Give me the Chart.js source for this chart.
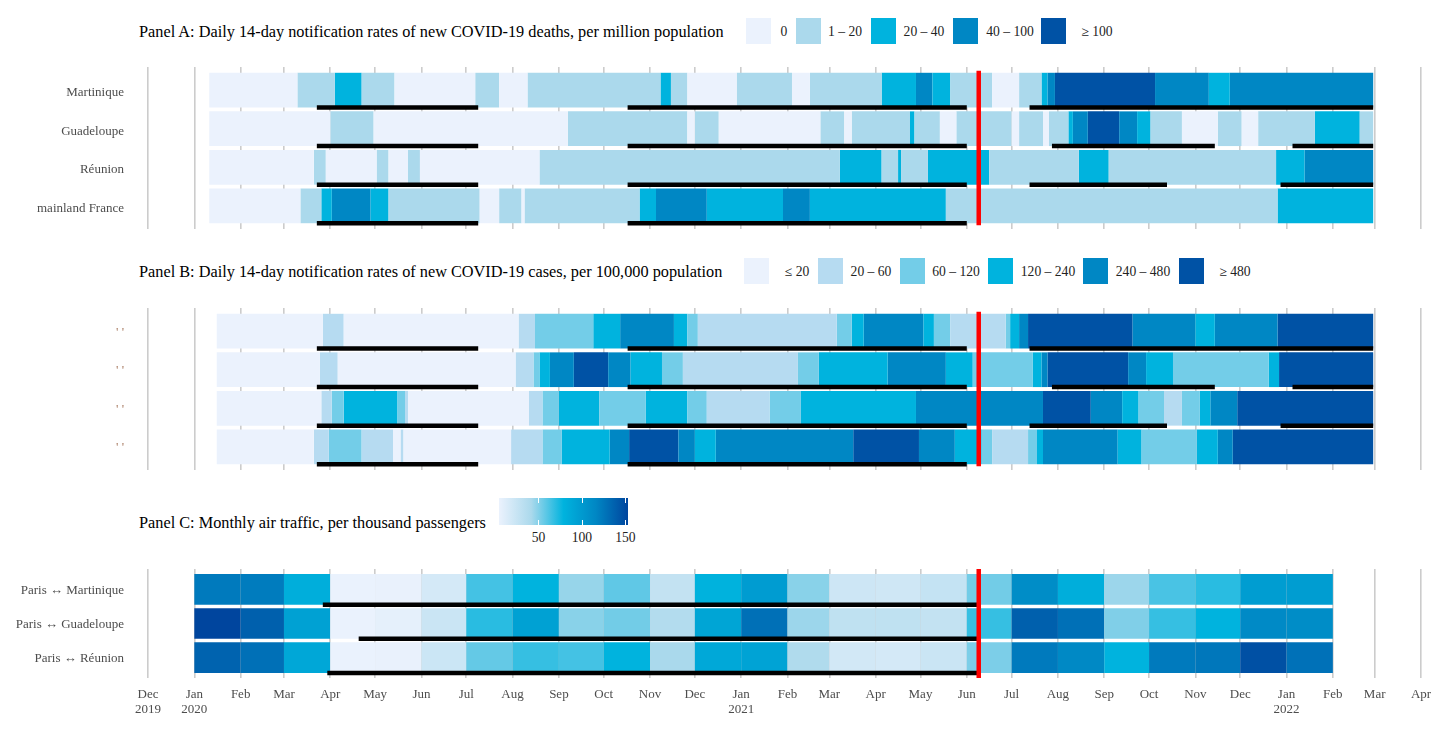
<!DOCTYPE html>
<html>
<head>
<meta charset="utf-8">
<title>COVID-19 notification rates and air traffic</title>
<script src="https://cdn.jsdelivr.net/npm/chart.js@4"></script>
<style>
  html, body { margin: 0; background: #fff; overflow: hidden; }
  body { position: relative; width: 1456px; height: 734px; font-family: 'Liberation Serif', serif; }
  canvas { position: absolute; left: 0; }
  .title { position: absolute; left: 139px; font-size: 16.3px; color: #000; white-space: nowrap; line-height: 18px; }
  .swatch { position: absolute; width: 25px; height: 26px; }
  .key { position: absolute; font-size: 13.6px; color: #222; white-space: nowrap; line-height: 16px; transform: translateX(-50%); }
  #colorbar { position: absolute; left: 499px; top: 498px; width: 129px; height: 27px;
    background: linear-gradient(to right, #EBF2FD, #ABD9EC 25%, #00B3DE 50%, #0087C4 75%, #00459E); }
  .cbtick { position: absolute; width: 1px; height: 5px; background: #fff; }
</style>
</head>
<body>
<div class="title" style="top:23px">Panel A: Daily 14-day notification rates of new COVID-19 deaths, per million population</div>
<div class="title" style="top:263px">Panel B: Daily 14-day notification rates of new COVID-19 cases, per 100,000 population</div>
<div class="title" style="top:514px">Panel C: Monthly air traffic, per thousand passengers</div>
<div id="legends"></div>
<div id="colorbar"></div>
<canvas id="panelA" width="1456" height="162" style="top:67px"></canvas>
<canvas id="panelB" width="1456" height="162" style="top:307.5px"></canvas>
<canvas id="panelC" width="1456" height="165" style="top:569px"></canvas>

<script>
/* ─── Time axis: days since 1 Dec 2019 ──────────── */
const monthStarts = [0, 31, 62, 91, 122, 152, 183, 213, 244, 275, 305, 336, 366, 397, 428, 456, 487, 517, 548, 578, 609, 640, 670, 701, 731, 762, 793, 821, 852];
const monthLabels = [['Dec', '2019'], ['Jan', '2020'], 'Feb', 'Mar', 'Apr', 'May', 'Jun', 'Jul', 'Aug', 'Sep', 'Oct', 'Nov', 'Dec', ['Jan', '2021'], 'Feb', 'Mar', 'Apr', 'May', 'Jun', 'Jul', 'Aug', 'Sep', 'Oct', 'Nov', 'Dec', ['Jan', '2022'], 'Feb', 'Mar', 'Apr'];
const reopeningDay = 556;

/* ─── Panel A: deaths ───────────────────────────── */
const territories = ['Martinique', 'Guadeloupe', 'Réunion', 'mainland France'];
const deathLevelLabels = ['0', '1 – 20', '20 – 40', '40 – 100', '≥ 100'];

const deathEdgesMartinique = [41, 100, 125, 143, 165, 219, 235, 254, 343, 350, 361, 394, 431, 443, 491, 514, 525, 537, 565, 583, 598, 602, 607, 674, 710, 724, 820];
const deathLevelsMartinique = [0, 1, 2, 1, 0, 1, 0, 1, 2, 1, 0, 1, 0, 1, 2, 3, 2, 1, 0, 1, 2, 3, 4, 3, 2, 3];
const deathEdgesGuadeloupe = [41, 122, 151, 281, 361, 366, 382, 450, 466, 471, 510, 513, 530, 541, 578, 583, 599, 603, 616, 619, 629, 650, 662, 671, 692, 716, 732, 743, 781, 811, 820];
const deathLevelsGuadeloupe = [0, 1, 0, 1, 0, 1, 0, 1, 0, 1, 2, 1, 0, 1, 0, 1, 0, 1, 2, 3, 4, 3, 2, 1, 0, 1, 0, 1, 2, 1];
const deathEdgesReunion = [41, 111, 119, 153, 161, 174, 182, 262, 463, 491, 502, 504, 522, 563, 623, 643, 755, 774, 820];
const deathLevelsReunion = [0, 1, 0, 1, 0, 1, 0, 1, 2, 1, 2, 1, 2, 1, 2, 1, 2, 3];
const deathEdgesFrance = [41, 102, 116, 123, 149, 161, 222, 235, 250, 252, 329, 340, 374, 425, 443, 534, 756, 820];
const deathLevelsFrance = [0, 1, 2, 3, 2, 1, 0, 1, 0, 1, 2, 3, 2, 3, 2, 1, 2];

/* ─── Panel B: cases ────────────────────────────── */
const caseRowLabels = ["' '", "' '", "' '", "' '"];
const caseLevelLabels = ['≤ 20', '20 – 60', '60 – 120', '120 – 240', '240 – 480', '≥ 480'];

const caseEdgesMartinique = [46, 117, 131, 248, 259, 298, 316, 352, 361, 368, 461, 471, 479, 519, 526, 537, 574, 577, 583, 589, 659, 701, 714, 756, 820];
const caseLevelsMartinique = [0, 1, 0, 1, 2, 3, 4, 3, 2, 1, 2, 3, 4, 3, 2, 1, 2, 3, 4, 5, 4, 3, 4, 5];
const caseEdgesGuadeloupe = [46, 115, 127, 246, 258, 262, 269, 285, 308, 323, 344, 358, 435, 449, 495, 534, 552, 592, 598, 602, 656, 668, 686, 750, 757, 820];
const caseLevelsGuadeloupe = [0, 1, 0, 1, 2, 3, 4, 5, 4, 3, 2, 1, 2, 3, 4, 3, 2, 3, 4, 5, 4, 3, 2, 3, 5];
const caseEdgesReunion = [46, 116, 123, 131, 167, 172, 174, 255, 264, 275, 302, 333, 361, 374, 416, 437, 514, 599, 631, 652, 663, 680, 692, 704, 711, 729, 820];
const caseLevelsReunion = [0, 1, 2, 3, 2, 1, 0, 1, 2, 3, 2, 3, 2, 1, 2, 3, 4, 5, 4, 3, 2, 1, 2, 3, 4, 5];
const caseEdgesFrance = [46, 111, 121, 143, 164, 169, 171, 243, 264, 277, 309, 322, 355, 366, 380, 472, 516, 540, 558, 565, 589, 595, 599, 649, 665, 702, 716, 726, 820];
const caseLevelsFrance = [0, 1, 2, 1, 0, 1, 0, 1, 2, 3, 4, 5, 4, 3, 4, 5, 4, 3, 2, 1, 2, 3, 4, 3, 2, 3, 4, 5];

/* Black bars: [row, first day, last day], same in panels A and B */
const restrictionPeriods = [
  [0, 113, 221], [0, 321, 548], [0, 590, 820],
  [1, 113, 221], [1, 321, 548], [1, 605, 714], [1, 766, 820],
  [2, 113, 221], [2, 321, 548], [2, 590, 682], [2, 758, 820],
  [3, 113, 221], [3, 321, 548]
];

/* ─── Panel C: air traffic, one value per month from Jan 2020 ── */
const airRoutes = ['Paris ↔ Martinique', 'Paris ↔ Guadeloupe', 'Paris ↔ Réunion'];
const airMartinique = [123, 122, 83, 5, 6, 18, 64, 79, 46, 58, 28, 80, 98, 49, 22, 21, 27, 54, 111, 83, 45, 63, 70, 97, 97];
const airGuadeloupe = [153, 138, 94, 5, 8, 24, 70, 94, 49, 54, 37, 91, 129, 45, 30, 30, 28, 67, 138, 129, 51, 67, 79, 113, 111];
const airReunion = [136, 129, 89, 5, 6, 23, 57, 67, 64, 79, 42, 88, 92, 39, 19, 18, 24, 52, 123, 114, 79, 123, 125, 147, 128];
const airPeriods = [[0, 117, 556], [1, 141, 556], [2, 120, 556]];
const airTicks = [50, 100, 150];

/* ─── Colours ───────────────────────────────────── */
const deathColors = ['#EBF2FD', '#ABD9EC', '#00B3DE', '#0087C4', '#0052A5'];
const caseColors = ['#EBF2FD', '#B6DBF1', '#73CDE8', '#00B3DE', '#0087C4', '#0052A5'];
const airColors = ['#EBF2FD', '#ABD9EC', '#00B3DE', '#0087C4', '#00459E'];
const AIR_MIN = 4.6, AIR_MAX = 153;

function airColor(value) {
  const hex = c => [1, 3, 5].map(i => parseInt(c.slice(i, i + 2), 16));
  const p = Math.min(1, Math.max(0, (value - AIR_MIN) / (AIR_MAX - AIR_MIN))) * (airColors.length - 1);
  const i = Math.min(Math.floor(p), airColors.length - 2);
  const a = hex(airColors[i]), b = hex(airColors[i + 1]);
  const mix = a.map((v, k) => Math.round(v + (b[k] - v) * (p - i)));
  return `rgb(${mix.join(',')})`;
}

/* ─── Dataset builders ──────────────────────────── */
function levelDatasets(edgesByRow, levelsByRow, colors, labels) {
  return colors.map((color, level) => {
    const data = [];
    edgesByRow.forEach((edges, row) => {
      levelsByRow[row].forEach((l, i) => {
        if (l === level) data.push({ x: [edges[i], edges[i + 1]], y: row });
      });
    });
    return { type: 'bar', label: labels[level], data, backgroundColor: color, grouped: false, order: 3 };
  });
}

function airDataset(rows) {
  const data = [], backgroundColor = [];
  rows.forEach((values, row) => {
    values.forEach((v, i) => {
      data.push({ x: [monthStarts[i + 1], monthStarts[i + 2]], y: row });
      backgroundColor.push(airColor(v));
    });
  });
  return { type: 'bar', label: 'Air traffic', data, backgroundColor, grouped: false, order: 3 };
}

function periodDatasets(periods, offset) {
  return periods.map(([row, from, to]) => ({
    type: 'line',
    label: 'Period',
    data: [{ x: from, y: row + offset }, { x: to, y: row + offset }],
    borderColor: '#000',
    borderWidth: 4.5,
    borderCapStyle: 'butt',
    pointRadius: 0,
    order: 2
  }));
}

function reopeningDataset(yFrom, yTo) {
  return {
    type: 'line',
    label: 'Reopening',
    data: [{ x: reopeningDay, y: yFrom }, { x: reopeningDay, y: yTo }],
    borderColor: '#FF0000',
    borderWidth: 4.5,
    borderCapStyle: 'butt',
    pointRadius: 0,
    order: 1
  };
}

/* ─── Shared chart setup ────────────────────────── */
function makePanel(id, rowLabels, datasets, opts) {
  new Chart(document.getElementById(id), {
    data: { datasets },
    options: {
      responsive: false,
      animation: false,
      indexAxis: 'y',
      devicePixelRatio: 1,
      layout: { autoPadding: false, padding: { top: 0, right: 35, bottom: 0, left: 0 } },
      plugins: { legend: { display: false }, tooltip: { enabled: false } },
      datasets: { bar: { barPercentage: 1, categoryPercentage: 0.9, borderWidth: 0 } },
      scales: {
        x: {
          type: 'linear',
          min: 0,
          max: 852,
          afterBuildTicks: axis => { axis.ticks = monthStarts.map(value => ({ value })); },
          afterFit: axis => { axis.height = opts.xHeight; },
          grid: { color: '#CCCCCC', lineWidth: 1.6, drawTicks: false },
          border: { display: false },
          ticks: {
            display: opts.showMonths,
            autoSkip: false,
            maxRotation: 0,
            padding: 9,
            color: '#4D4D4D',
            font: { family: "'Liberation Serif'", size: 13, lineHeight: 1.15 },
            callback: (v, i) => monthLabels[i]
          }
        },
        y: {
          type: 'linear',
          reverse: true,
          offset: false,
          min: -0.6,
          max: rowLabels.length - 0.4,
          afterBuildTicks: axis => { axis.ticks = rowLabels.map((_, value) => ({ value })); },
          // the tick padding below would otherwise also shrink the plot height
          afterFit: axis => { axis.width = 148; axis.paddingTop = 0; axis.paddingBottom = 0; },
          grid: { display: false, drawTicks: false, offset: false },
          border: { display: false },
          ticks: {
            autoSkip: false,
            padding: 24,
            labelOffset: opts.labelOffset,
            color: opts.rowColor,
            font: { family: "'Liberation Serif'", size: 13 },
            callback: v => rowLabels[v]
          }
        }
      }
    }
  });
}

makePanel('panelA', territories, [
  reopeningDataset(-0.5, 3.5),
  ...periodDatasets(restrictionPeriods, 0.45),
  ...levelDatasets(
    [deathEdgesMartinique, deathEdgesGuadeloupe, deathEdgesReunion, deathEdgesFrance],
    [deathLevelsMartinique, deathLevelsGuadeloupe, deathLevelsReunion, deathLevelsFrance],
    deathColors, deathLevelLabels)
], { xHeight: 0, showMonths: false, rowColor: '#4D4D4D', labelOffset: 2.5 });

makePanel('panelB', caseRowLabels, [
  reopeningDataset(-0.5, 3.5),
  ...periodDatasets(restrictionPeriods, 0.45),
  ...levelDatasets(
    [caseEdgesMartinique, caseEdgesGuadeloupe, caseEdgesReunion, caseEdgesFrance],
    [caseLevelsMartinique, caseLevelsGuadeloupe, caseLevelsReunion, caseLevelsFrance],
    caseColors, caseLevelLabels)
], { xHeight: 0, showMonths: false, rowColor: '#A87A60', labelOffset: 1 });

makePanel('panelC', airRoutes, [
  reopeningDataset(-0.6, 2.6),
  ...periodDatasets(airPeriods, 0.45),
  airDataset([airMartinique, airGuadeloupe, airReunion])
], { xHeight: 56, showMonths: true, rowColor: '#4D4D4D', labelOffset: 1 });

/* ─── Legends ───────────────────────────────────── */
const legendHost = document.getElementById('legends');

function addLegend(colors, labels, swatchLefts, labelCentres, top) {
  colors.forEach((color, i) => {
    legendHost.innerHTML += `<div class="swatch" style="left:${swatchLefts[i]}px;top:${top}px;background:${color}"></div>` +
      `<div class="key" style="left:${labelCentres[i]}px;top:${top + 6}px">${labels[i]}</div>`;
  });
}

addLegend(deathColors, deathLevelLabels, [746, 796, 871, 953, 1041], [784, 845, 924, 1010, 1097], 18);
addLegend(caseColors, caseLevelLabels, [744, 818, 900, 988, 1083, 1179], [797, 871, 956, 1048, 1143, 1235], 258);

// Colourbar ticks and labels
const colorbar = document.getElementById('colorbar');
airTicks.forEach(v => {
  const x = (v - AIR_MIN) / (AIR_MAX - AIR_MIN) * 129;
  colorbar.innerHTML += `<div class="cbtick" style="left:${x}px;top:0"></div><div class="cbtick" style="left:${x}px;bottom:0"></div>`;
  legendHost.innerHTML += `<div class="key" style="left:${499 + x}px;top:530px;color:#222">${v}</div>`;
});
</script>
</body>
</html>
